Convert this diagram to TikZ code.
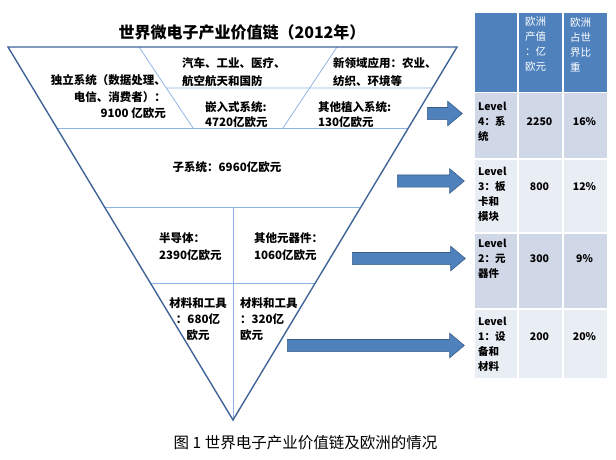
\documentclass[tikz,border=0pt]{standalone}
\usepackage{fontspec}
\setmainfont{Noto Sans CJK SC}
\usepackage{tikz}
\usetikzlibrary{positioning,shapes.arrows,calc}
\usepackage{xcolor}
\definecolor{edgeblue}{HTML}{3F6496}
\definecolor{lineblue}{HTML}{8DB3E2}
\definecolor{arrowfill}{HTML}{4F81BD}
\definecolor{arrowedge}{HTML}{385D8A}
\definecolor{headfill}{HTML}{4F81BD}
\definecolor{rowdark}{HTML}{D0D8E8}
\definecolor{rowlight}{HTML}{E9EDF4}

\begin{document}
\begin{tikzpicture}[x=1pt, y=-1pt,
    outline/.style={draw=edgeblue, line width=1.4pt, line join=miter},
    divider/.style={draw=lineblue, line width=0.7pt},
    txt/.style={inner sep=0pt, font=\fontsize{11.5}{16}\selectfont\bfseries},
    blockarrow/.style={single arrow, draw=arrowedge, fill=arrowfill, line width=0.6pt,
                       inner xsep=0pt, inner ysep=5.75pt, minimum width=0pt,
                       single arrow head extend=6.25pt, single arrow tip angle=80, anchor=tail},
    cell/.style={draw=white, line width=1.5pt, anchor=north west, inner sep=0pt},
    celltxt/.style={inner sep=0pt, font=\fontsize{10.5}{15}\selectfont\bfseries, align=left, anchor=west},
    cellnum/.style={inner sep=0pt, font=\fontsize{10.5}{15}\selectfont\bfseries},
    headtxt/.style={inner sep=0pt, font=\fontsize{10.5}{15}\selectfont, align=left, anchor=west, text=white},
  ]
  \useasboundingbox (0,0) rectangle (616,460);

  % the pyramid
  \coordinate (tl) at (8,47);
  \coordinate (tr) at (457,47);
  \coordinate (apex) at (233,420);
  \coordinate (dla) at (139,47);
  \coordinate (dlb) at (193,128);
  \coordinate (dra) at (337,47);
  \coordinate (drb) at (283,128);

  \draw[divider] (dla) -- (dlb);
  \draw[divider] (dra) -- (drb);
  \draw[divider] ($(dla)!0.506!(dlb)$) -- ($(tr)!0.11!(apex)$);
  \draw[divider] ($(tl)!0.217!(apex)$) -- ($(tr)!0.217!(apex)$);
  \draw[divider] ($(tl)!0.429!(apex)$) -- ($(tr)!0.429!(apex)$);
  \draw[divider] ($(tl)!0.633!(apex)$) -- ($(tr)!0.633!(apex)$);
  \draw[divider] (apex) -- (apex |- 0,207);
  \draw[outline] (tl) -- (tr) -- (apex) -- cycle;

  \node[inner sep=0pt, font=\fontsize{16}{18}\selectfont\bfseries] (title) at (242,32) {世界微电子产业价值链（2012年）};

  \node[txt, align=right, anchor=east, font=\fontsize{11.5}{16.5}\selectfont\bfseries] (independent) at (166,97)
    {独立系统（数据处理、\\电信、消费者）：\\9100 亿欧元};
  \node[txt, align=left, anchor=west, font=\fontsize{11.5}{18}\selectfont\bfseries] (vehicles) at (182,72)
    {汽车、工业、医疗、\\航空航天和国防};
  \node[txt, align=left, anchor=west, font=\fontsize{11.5}{18}\selectfont\bfseries] (newfield) at (333,72)
    {新领域应用：农业、\\纺织、环境等};
  \node[txt, align=left, anchor=west, font=\fontsize{11.5}{15}\selectfont\bfseries] (embedded) at (205,114.5)
    {嵌入式系统:\\4720亿欧元};
  \node[txt, align=left, anchor=west, font=\fontsize{11.5}{15}\selectfont\bfseries] (implanted) at (318,114.5)
    {其他植入系统:\\130亿欧元};
  \node[txt] (subsystem) at (227,167) {子系统：6960亿欧元};
  \node[txt, align=left, anchor=west, font=\fontsize{11.5}{17}\selectfont\bfseries] (semi) at (159,246.5)
    {半导体：\\2390亿欧元};
  \node[txt, align=left, anchor=west, font=\fontsize{11.5}{17}\selectfont\bfseries] (components) at (254,246.5)
    {其他元器件：\\1060亿欧元};
  \node[txt, align=center] (materialsA) at (198,319) {材料和工具\\：680亿\\欧元};
  \node[txt, align=left, anchor=west] (materialsB) at (240,319) {材料和工具\\：320亿\\欧元};

  % arrows to the table
  \node[blockarrow, minimum height=35pt] (arrowsys) at (427,113.5) {};
  \node[blockarrow, minimum height=67pt] (arrowboard) at (397,181) {};
  \node[blockarrow, minimum height=113pt] (arrowcomp) at (352,258.5) {};
  \node[blockarrow, minimum height=177pt] (arrowmat) at (287,345.5) {};

  % table
  \node[cell, fill=headfill, minimum width=44pt, minimum height=80pt] (hA) at (473,12) {};
  \node[cell, fill=headfill, minimum width=45pt, minimum height=80pt] (hB) at (517,12) {};
  \node[cell, fill=headfill, minimum width=45pt, minimum height=80pt] (hC) at (562,12) {};
  \node[cell, fill=rowdark, minimum width=44pt, minimum height=66pt] (sysA) at (473,92) {};
  \node[cell, fill=rowdark, minimum width=45pt, minimum height=66pt] (sysB) at (517,92) {};
  \node[cell, fill=rowdark, minimum width=45pt, minimum height=66pt] (sysC) at (562,92) {};
  \node[cell, fill=rowlight, minimum width=44pt, minimum height=74pt] (boardA) at (473,158) {};
  \node[cell, fill=rowlight, minimum width=45pt, minimum height=74pt] (boardB) at (517,158) {};
  \node[cell, fill=rowlight, minimum width=45pt, minimum height=74pt] (boardC) at (562,158) {};
  \node[cell, fill=rowdark, minimum width=44pt, minimum height=76pt] (compA) at (473,232) {};
  \node[cell, fill=rowdark, minimum width=45pt, minimum height=76pt] (compB) at (517,232) {};
  \node[cell, fill=rowdark, minimum width=45pt, minimum height=76pt] (compC) at (562,232) {};
  \node[cell, fill=rowlight, minimum width=44pt, minimum height=70pt] (matA) at (473,308) {};
  \node[cell, fill=rowlight, minimum width=45pt, minimum height=70pt] (matB) at (517,308) {};
  \node[cell, fill=rowlight, minimum width=45pt, minimum height=70pt] (matC) at (562,308) {};

  \node[headtxt] (hBtxt) at (525,44.5) {欧洲\\产值\\：亿\\欧元};
  \node[headtxt] (hCtxt) at (570,44.5) {欧洲\\占世\\界比\\重};
  \node[celltxt] (sysAtxt) at (478,122) {Level\\4：系\\统};
  \node[cellnum] (sysBtxt) at (539.5,122) {2250};
  \node[cellnum] (sysCtxt) at (584.5,122) {16\%};
  \node[celltxt] (boardAtxt) at (478,194.5) {Level\\3：板\\卡和\\模块};
  \node[cellnum] (boardBtxt) at (539.5,187) {800};
  \node[cellnum] (boardCtxt) at (584.5,187) {12\%};
  \node[celltxt] (compAtxt) at (478,259) {Level\\2：元\\器件};
  \node[cellnum] (compBtxt) at (539.5,259) {300};
  \node[cellnum] (compCtxt) at (584.5,259) {9\%};
  \node[celltxt] (matAtxt) at (478,344.5) {Level\\1：设\\备和\\材料};
  \node[cellnum] (matBtxt) at (539.5,337) {200};
  \node[cellnum] (matCtxt) at (584.5,337) {20\%};

  \node[inner sep=0pt, font=\fontsize{15.5}{18}\selectfont] (caption) at (305.5,443)
    {图 1 世界电子产业价值链及欧洲的情况};
\end{tikzpicture}
\end{document}
